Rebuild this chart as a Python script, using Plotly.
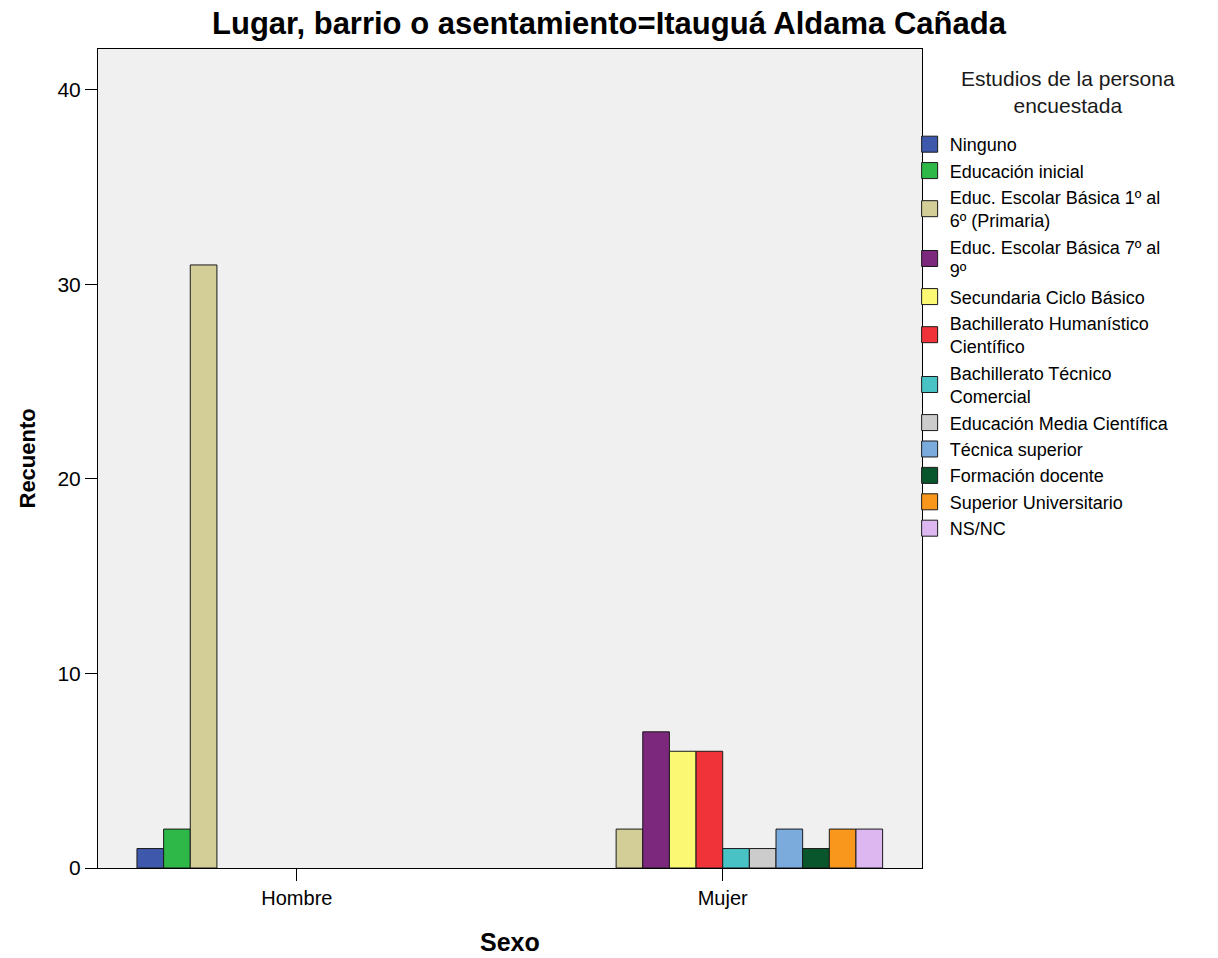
import plotly.graph_objects as go

# ---- data ----
sexo = ["Hombre", "Mujer"]
estudios = [
    "Ninguno",
    "Educación inicial",
    "Educ. Escolar Básica 1º al<br>6º (Primaria)",
    "Educ. Escolar Básica 7º al<br>9º",
    "Secundaria Ciclo Básico",
    "Bachillerato Humanístico<br>Científico",
    "Bachillerato Técnico<br>Comercial",
    "Educación Media Científica",
    "Técnica superior",
    "Formación docente",
    "Superior Universitario",
    "NS/NC",
]
hombre = [1, 2, 31, 0, 0, 0, 0, 0, 0, 0, 0, 0]
mujer = [0, 0, 2, 7, 6, 6, 1, 1, 2, 1, 2, 2]
colores = [
    "#3E58AC", "#2EB848", "#D3CE97", "#7C287D", "#FBF873", "#EF3338",
    "#48C2C5", "#CCCCCC", "#7BAADD", "#0A562C", "#F8971B", "#DDB8F0",
]
legend_title = "Estudios de la persona<br>encuestada"
x_title = "Sexo"
y_title = "Recuento"

fig = go.Figure()
for i, name in enumerate(estudios):
    vals = [hombre[i], mujer[i]]
    fig.add_trace(go.Bar(
        x=sexo,
        y=[v if v else None for v in vals],
        name=name,
        marker=dict(color=colores[i], line=dict(color="#1a1a1a", width=1)),
        showlegend=False,
    ))
# legend entries (larger square swatches)
for i, name in enumerate(estudios):
    fig.add_trace(go.Scatter(
        x=[None], y=[None], mode="markers", name=name,
        marker=dict(symbol="square", size=16, color=colores[i],
                    line=dict(color="#1a1a1a", width=1)),
        showlegend=True,
    ))

fig.add_annotation(
    text=legend_title, xref="paper", yref="paper",
    x=1.177, y=1.0, xanchor="center", yanchor="top", yshift=-16,
    showarrow=False, align="center",
    font=dict(size=21, color="#1a1a1a"),
)
fig.add_annotation(
    text=f"<b>{x_title}</b>", xref="paper", yref="paper",
    x=0.5, y=0, xanchor="center", yanchor="middle", yshift=-74,
    showarrow=False, font=dict(size=25, color="black"),
)
fig.add_annotation(
    text=f"<b>{y_title}</b>", xref="paper", yref="paper",
    x=0, y=0.5, xanchor="center", yanchor="middle", xshift=-71,
    textangle=-90, showarrow=False, font=dict(size=22, color="black"),
)

fig.update_layout(
    width=1218, height=958,
    margin=dict(l=98, r=296, t=49, b=90),
    paper_bgcolor="white",
    plot_bgcolor="#F0F0F0",
    barmode="group",
    bargap=0.249,
    bargroupgap=0,
    font=dict(family="Liberation Sans, Arial, sans-serif", color="black"),
    title=dict(
        text="<b>Lugar, barrio o asentamiento=Itauguá Aldama Cañada</b>",
        x=0.5, xanchor="center", y=0.976, yanchor="middle",
        font=dict(size=31, color="black"),
    ),
    xaxis=dict(
        type="category",
        range=[-0.467, 1.468],
        showline=True, linecolor="black", linewidth=1, mirror=True,
        ticks="outside", ticklen=12, tickcolor="black",
        tickfont=dict(size=20),
        showgrid=False, zeroline=False, automargin=False,
    ),
    yaxis=dict(
        range=[0, 42.1],
        tickvals=[0, 10, 20, 30, 40],
        showline=True, linecolor="black", linewidth=1, mirror=True,
        ticks="outside", ticklen=12, tickcolor="black",
        tickfont=dict(size=21),
        showgrid=False, zeroline=False, automargin=False,
    ),
    legend=dict(
        x=0.985, xanchor="left", y=0.906, yanchor="top",
        bgcolor="rgba(0,0,0,0)",
        font=dict(size=18),
        tracegroupgap=0,
    ),
)

fig.write_html("out.html", config={"displayModeBar": False},
               post_script="document.body.style.margin='0';")
